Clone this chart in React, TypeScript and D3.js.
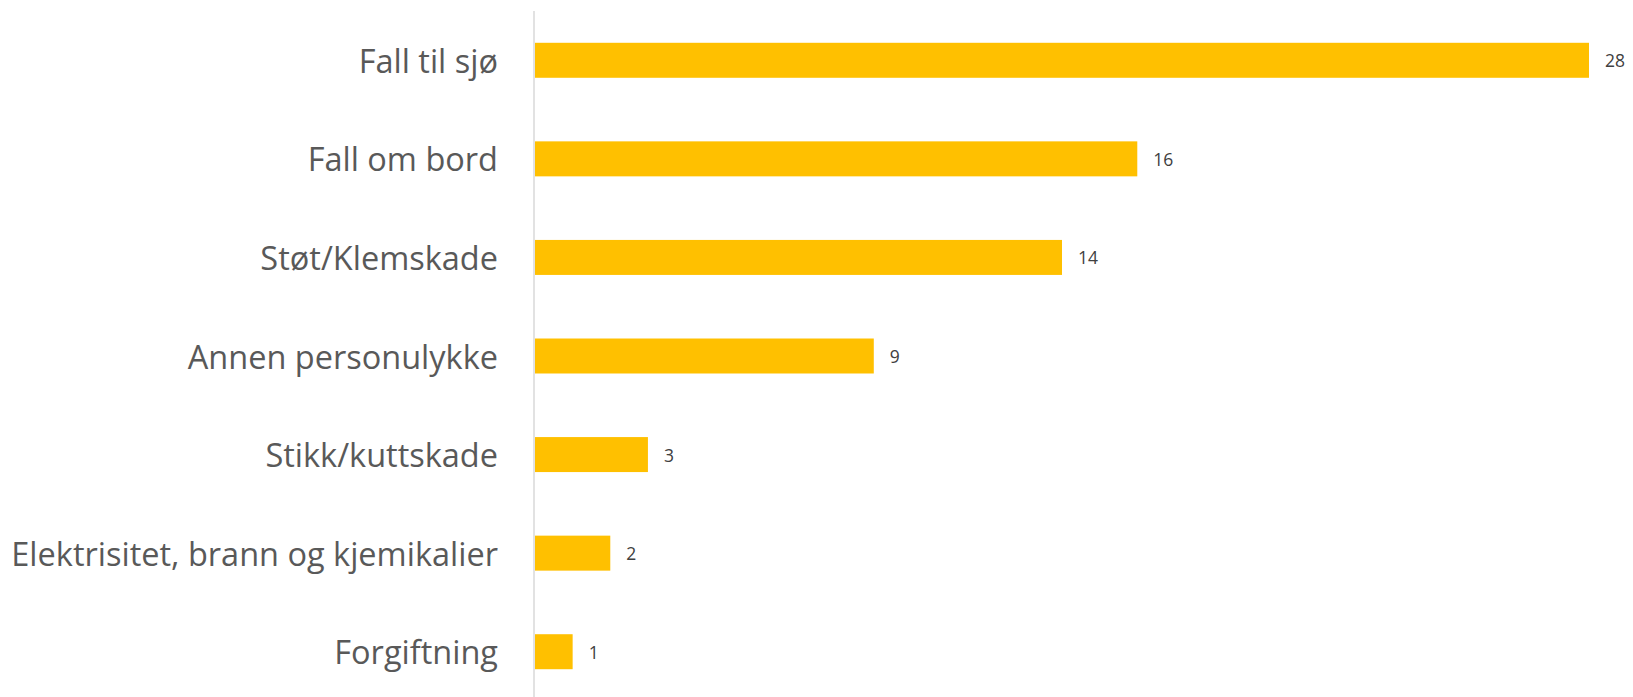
import React from "react";
import * as d3 from "d3";

const categories = [
  "Fall til sjø",
  "Fall om bord",
  "Støt/Klemskade",
  "Annen personulykke",
  "Stikk/kuttskade",
  "Elektrisitet, brann og kjemikalier",
  "Forgiftning",
];
const values = [28, 16, 14, 9, 3, 2, 1];

const W = 1633;
const H = 697;
const margin = { top: 11, right: 44, bottom: -4, left: 535 };

export default function App() {
  const x = d3.scaleLinear().domain([0, 28]).range([margin.left, W - margin.right]);
  const y = d3
    .scaleBand<string>()
    .domain(categories)
    .range([margin.top, H - margin.bottom])
    .paddingInner(0.645)
    .paddingOuter(0.3225);
  const font = "Open Sans, Carlito, Calibri, sans-serif";
  return (
    <div style={{ position: "fixed", left: 0, top: 0 }}>
      <svg width={W} height={H} style={{ display: "block", background: "#fff" }}>
        {categories.map((c, i) => (
          <g key={c}>
            <rect
              x={x(0)}
              y={y(c)}
              width={x(values[i]) - x(0)}
              height={y.bandwidth()}
              fill="#FFC000"
            />
            <text
              x={x(0) - 37}
              y={(y(c) as number) + y.bandwidth() / 2}
              textAnchor="end"
              dominantBaseline="central"
              fontFamily={font}
              fontSize={32.5}
              fill="#595959"
            >
              {c}
            </text>
            <text
              x={x(values[i]) + 16}
              y={(y(c) as number) + y.bandwidth() / 2}
              dominantBaseline="central"
              fontFamily={font}
              fontSize={17.5}
              fill="#404040"
            >
              {values[i]}
            </text>
          </g>
        ))}
        <line x1={x(0) - 1} x2={x(0) - 1} y1={margin.top} y2={H} stroke="#D9D9D9" strokeWidth={1.5} />
      </svg>
    </div>
  );
}
